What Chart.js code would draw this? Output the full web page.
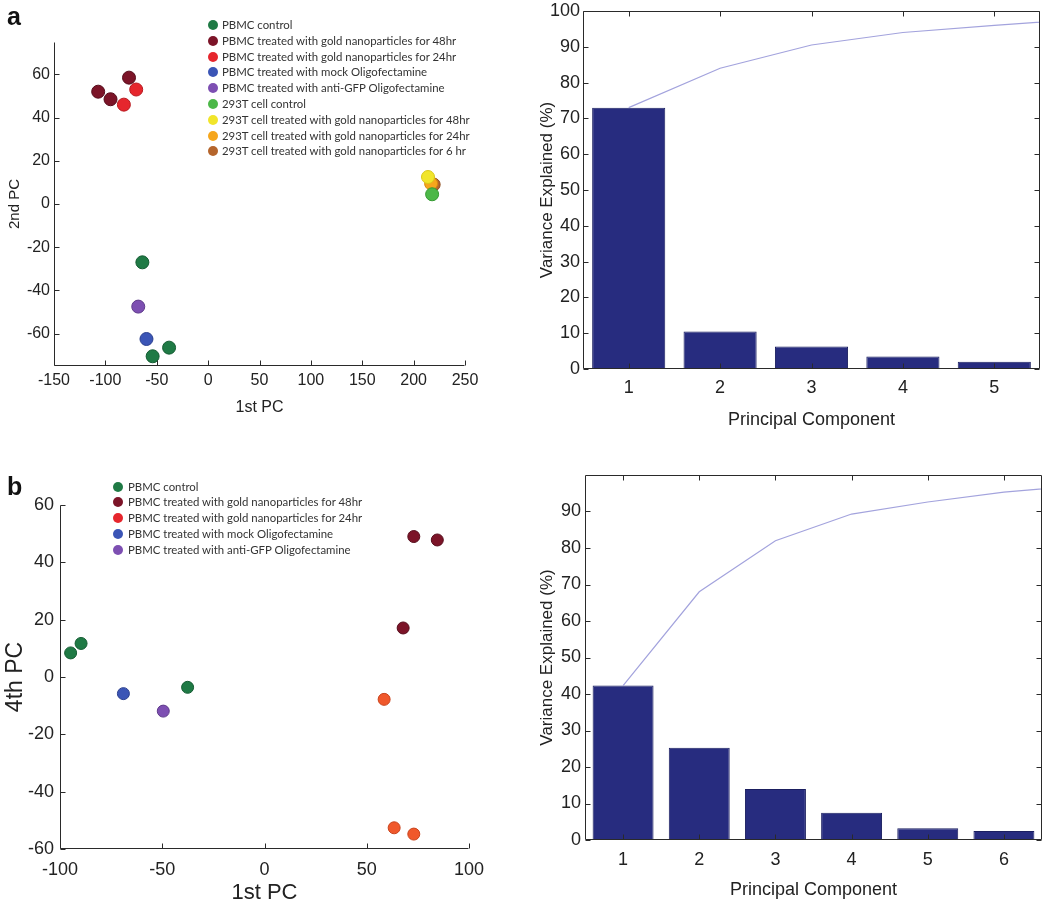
<!DOCTYPE html>
<html><head><meta charset="utf-8">
<script src="https://cdn.jsdelivr.net/npm/chart.js@4.4.1/dist/chart.umd.min.js"></script>
<style>
html,body{margin:0;padding:0;background:#fff;}
#wrap{position:relative;width:1050px;height:902px;overflow:hidden;background:#fff;}
canvas{position:absolute;}
.panel{position:absolute;font-family:"Liberation Sans",Arial,sans-serif;font-weight:bold;font-size:25px;color:#111;line-height:25px;}
.legend{position:absolute;font-family:Lato,"Open Sans",sans-serif;font-size:11.4px;color:#333;}
.legend .row{position:absolute;white-space:nowrap;height:14px;line-height:14px;left:0;}
.legend .dot{position:absolute;width:10px;height:10px;border-radius:50%;top:2px;left:0;box-sizing:border-box;}
.legend .txt{position:absolute;top:0;}
</style></head>
<body>
<div id="wrap">
  <canvas id="ca1" width="500" height="440" style="left:0;top:0;width:500px;height:440px"></canvas>
  <canvas id="ca2" width="530" height="440" style="left:520px;top:0;width:530px;height:440px"></canvas>
  <canvas id="cb1" width="500" height="440" style="left:0;top:470px;width:500px;height:440px"></canvas>
  <canvas id="cb2" width="530" height="432" style="left:520px;top:470px;width:530px;height:432px"></canvas>
  <div class="panel" style="left:7px;top:4px">a</div>
  <div class="panel" style="left:7px;top:474px">b</div>
  <div class="legend" id="legA" style="left:208px;top:0"></div>
  <div class="legend" id="legB" style="left:113px;top:470px"></div>
</div>
<script>
// ---------- DATA ----------
// Panel a: PCA scatter (1st PC vs 2nd PC)
const groupsA = [
  'PBMC control',
  'PBMC treated with gold nanoparticles for 48hr',
  'PBMC treated with gold nanoparticles for 24hr',
  'PBMC treated with mock Oligofectamine',
  'PBMC treated with anti-GFP Oligofectamine',
  '293T cell control',
  '293T cell treated with gold nanoparticles for 48hr',
  '293T cell treated with gold nanoparticles for 24hr',
  '293T cell treated with gold nanoparticles for 6 hr'
];
const aCtrlX = [-64, -38, -54];        const aCtrlY = [-27, -66.5, -70.5];
const a48X   = [-107, -95, -77];       const a48Y   = [52, 48.5, 58.5];
const a24X   = [-82, -70];             const a24Y   = [46, 53];
const aMockX = [-60];                  const aMockY = [-62.5];
const aGfpX  = [-68];                  const aGfpY  = [-47.5];
const a293CtrlX = [218];               const a293CtrlY = [4.5];
const a293_48X  = [214];               const a293_48Y  = [12.5];
const a293_24X  = [217];               const a293_24Y  = [9.5];
const a293_6X   = [219.5];             const a293_6Y   = [9];
const ticksA_x = [-150, -100, -50, 0, 50, 100, 150, 200, 250];
const ticksA_y = [-60, -40, -20, 0, 20, 40, 60];

// Panel a: variance explained
const compA = [1, 2, 3, 4, 5];
const varA  = [73, 10.5, 6.3, 3.5, 2];
const cumCompA = [1, 2, 3, 4, 5, 6];
const cumA  = [73, 84, 90.5, 94, 96, 97.8];
const ticksA_bar_y = [0, 10, 20, 30, 40, 50, 60, 70, 80, 90, 100];

// Panel b: PCA scatter (1st PC vs 4th PC)
const groupsB = groupsA.slice(0, 5);
const bCtrlX = [-94.8, -89.7, -37.6];  const bCtrlY = [8.4, 11.7, -3.6];
const b48X   = [73, 84.5, 67.8];       const b48Y   = [49, 47.8, 17.1];
const b24X   = [58.5, 63.4, 73];       const b24Y   = [-7.8, -52.6, -54.8];
const bMockX = [-69];                  const bMockY = [-5.8];
const bGfpX  = [-49.5];                const bGfpY  = [-11.9];
const ticksB_x = [-100, -50, 0, 50, 100];
const ticksB_y = [-60, -40, -20, 0, 20, 40, 60];

// Panel b: variance explained
const compB = [1, 2, 3, 4, 5, 6];
const varB  = [42.3, 25.3, 14, 7.5, 3.2, 2.5];
const cumCompB = [1, 2, 3, 4, 5, 6, 7];
const cumB  = [42.3, 68, 82, 89.3, 92.6, 95.3, 97.1];
const ticksB_bar_y = [0, 10, 20, 30, 40, 50, 60, 70, 80, 90];

// ---------- STYLE ----------
const FONT = '"Liberation Sans", Arial, Helvetica, sans-serif';
const TXT = '#222';
const colorsA = ['#1f7a45', '#7c1428', '#e6262d', '#3b55b6', '#7d4fb2', '#4cb848', '#f1e52b', '#f6a61c', '#b5652c'];
const edgesA  = ['#145c32', '#560c1b', '#b81a20', '#2a3f8e', '#5e3a8a', '#359a32', '#d8c81a', '#d68a10', '#8e4c1e'];
const colorsB = ['#1f7a45', '#7c1428', '#f0582b', '#3b55b6', '#7d4fb2'];
const edgesB  = ['#145c32', '#560c1b', '#c8431c', '#2a3f8e', '#5e3a8a'];
const legendColorsB = ['#1f7a45', '#7c1428', '#e6262d', '#3b55b6', '#7d4fb2'];

function pts(xs, ys) { return xs.map((x, i) => ({ x: x, y: ys[i] })); }
function fixedTicks(list) { return function (scale) { scale.ticks = list.map(v => ({ value: v })); }; }

const framePlugin = {
  id: 'frame',
  afterDraw(chart, args, opts) {
    const ctx = chart.ctx;
    const a = chart.chartArea;
    const L = Math.round(a.left) + 0.5, R = Math.round(a.right) - 0.5;
    const T = Math.round(a.top) + 0.5, B = Math.round(a.bottom) - 0.5;
    const tl = opts.tick || 5;
    ctx.save();
    ctx.strokeStyle = '#2a2a2a';
    ctx.lineWidth = 1;
    ctx.beginPath();
    ctx.moveTo(L, T); ctx.lineTo(L, B); ctx.lineTo(R, B);
    if (opts.box) { ctx.lineTo(R, T); ctx.lineTo(L, T); }
    const xs = chart.scales.x, ys = chart.scales.y;
    xs.ticks.forEach(t => {
      const px = Math.round(xs.getPixelForValue(t.value)) + 0.5;
      ctx.moveTo(px, B); ctx.lineTo(px, B - tl);
      if (opts.box) { ctx.moveTo(px, T); ctx.lineTo(px, T + tl); }
    });
    ys.ticks.forEach(t => {
      const py = Math.round(ys.getPixelForValue(t.value)) + 0.5;
      ctx.moveTo(L, py); ctx.lineTo(L + tl, py);
      if (opts.box) { ctx.moveTo(R, py); ctx.lineTo(R - tl, py); }
    });
    ctx.stroke();
    ctx.restore();
  }
};

function axis(opts, horizontal) {
  return {
    type: 'linear', min: opts.min, max: opts.max, offset: false,
    afterBuildTicks: fixedTicks(opts.ticks),
    ticks: { font: { family: FONT, size: opts.size }, color: TXT, padding: opts.pad, maxRotation: 0, autoSkip: false,
             callback: v => String(v) },
    grid: { display: false, drawTicks: false, offset: false },
    border: { display: false },
    title: { display: true, text: opts.title, color: TXT, font: { family: FONT, size: opts.tsize },
             padding: opts.tpad },
    afterFit: s => {
      if (horizontal) { s.height = opts.box; } else { s.width = opts.box; }
      s.paddingTop = 0; s.paddingBottom = 0; s.paddingLeft = 0; s.paddingRight = 0;
    }
  };
}

function scatterChart(id, series, pad, xo, yo, radius) {
  return new Chart(document.getElementById(id), {
    type: 'scatter',
    data: { datasets: series.map(s => ({
      label: s.label, data: pts(s.x, s.y),
      backgroundColor: s.color, borderColor: s.edge, borderWidth: 1,
      pointRadius: radius, pointHoverRadius: radius
    })) },
    options: {
      responsive: false, animation: false, events: [],
      layout: { padding: pad },
      plugins: { legend: { display: false }, tooltip: { enabled: false }, frame: { box: false, tick: 5 } },
      scales: { x: axis(xo, true), y: axis(yo, false) }
    },
    plugins: [framePlugin]
  });
}

function paretoChart(id, comps, vals, cumX, cumY, pad, xo, yo) {
  return new Chart(document.getElementById(id), {
    type: 'bar',
    data: { datasets: [
      { type: 'line', label: 'Cumulative', data: pts(cumX, cumY), borderColor: '#a3a3dd', borderWidth: 1.2,
        pointRadius: 0, tension: 0, fill: false, clip: 0, order: 0 },
      { type: 'bar', label: 'Variance Explained', data: pts(comps, vals), backgroundColor: '#272c7f',
        borderColor: '#1b1f60', borderWidth: 1, barPercentage: 0.8, categoryPercentage: 1, order: 1 }
    ] },
    options: {
      responsive: false, animation: false, events: [],
      layout: { padding: pad },
      plugins: { legend: { display: false }, tooltip: { enabled: false }, frame: { box: true, tick: 5 } },
      scales: { x: axis(xo, true), y: axis(yo, false) }
    },
    plugins: [framePlugin]
  });
}

// Panel a scatter
const seriesA = [
  [aCtrlX, aCtrlY], [a48X, a48Y], [a24X, a24Y], [aMockX, aMockY], [aGfpX, aGfpY],
  [a293CtrlX, a293CtrlY], [a293_48X, a293_48Y], [a293_24X, a293_24Y], [a293_6X, a293_6Y]
].map((p, i) => ({ label: groupsA[i], x: p[0], y: p[1], color: colorsA[i], edge: edgesA[i] }));

scatterChart('ca1', seriesA, { top: 42, right: 35, left: 0, bottom: 0 },
  { min: -150, max: 250, ticks: ticksA_x, size: 16, pad: 5, title: '1st PC', tsize: 16,
    tpad: { top: 0, bottom: 23 }, box: 74 },
  { min: -75, max: 75, ticks: ticksA_y, size: 16, pad: 4, title: '2nd PC', tsize: 15,
    tpad: { top: 6, bottom: 0 }, box: 54 }, 6.5);

paretoChart('ca2', compA, varA, cumCompA, cumA, { top: 11, right: 10, left: 0, bottom: 0 },
  { min: 0.5, max: 5.5, ticks: compA, size: 18, pad: 8, title: 'Principal Component', tsize: 18,
    tpad: { top: 0, bottom: 9 }, box: 71 },
  { min: 0, max: 100, ticks: ticksA_bar_y, size: 18, pad: 3, title: 'Variance Explained (%)', tsize: 17,
    tpad: { top: 17, bottom: 0 }, box: 63 });

// Panel b scatter
const seriesB = [
  [bCtrlX, bCtrlY], [b48X, b48Y], [b24X, b24Y], [bMockX, bMockY], [bGfpX, bGfpY]
].map((p, i) => ({ label: groupsB[i], x: p[0], y: p[1], color: colorsB[i], edge: edgesB[i] }));

scatterChart('cb1', seriesB, { top: 35, right: 31, left: 0, bottom: 0 },
  { min: -100, max: 100, ticks: ticksB_x, size: 18, pad: 10, title: '1st PC', tsize: 22,
    tpad: { top: 0, bottom: 4 }, box: 61 },
  { min: -60, max: 60, ticks: ticksB_y, size: 18, pad: 6, title: '4th PC', tsize: 23,
    tpad: { top: 2, bottom: 0 }, box: 60 }, 6);

paretoChart('cb2', compB, varB, cumCompB, cumB, { top: 5, right: 8, left: 0, bottom: 0 },
  { min: 0.5, max: 6.5, ticks: compB, size: 18, pad: 9, title: 'Principal Component', tsize: 18,
    tpad: { top: 0, bottom: 1 }, box: 62 },
  { min: 0, max: 100, ticks: ticksB_bar_y, size: 18, pad: 4, title: 'Variance Explained (%)', tsize: 17,
    tpad: { top: 17, bottom: 0 }, box: 65 });

// Legends (inside plot regions, as in the figure)
function buildLegend(id, labels, colors, first, step, txtLeft) {
  const el = document.getElementById(id);
  labels.forEach((lab, i) => {
    const row = document.createElement('div');
    row.className = 'row';
    row.style.top = (first + step * i - 7) + 'px';
    const dot = document.createElement('span');
    dot.className = 'dot';
    dot.style.background = colors[i];
    const t = document.createElement('span');
    t.className = 'txt';
    t.style.left = txtLeft + 'px';
    t.textContent = lab;
    row.appendChild(dot); row.appendChild(t);
    el.appendChild(row);
  });
}
buildLegend('legA', groupsA, colorsA, 25, 15.8, 14);
buildLegend('legB', groupsB, legendColorsB, 16.5, 15.8, 15);
</script>
</body></html>
